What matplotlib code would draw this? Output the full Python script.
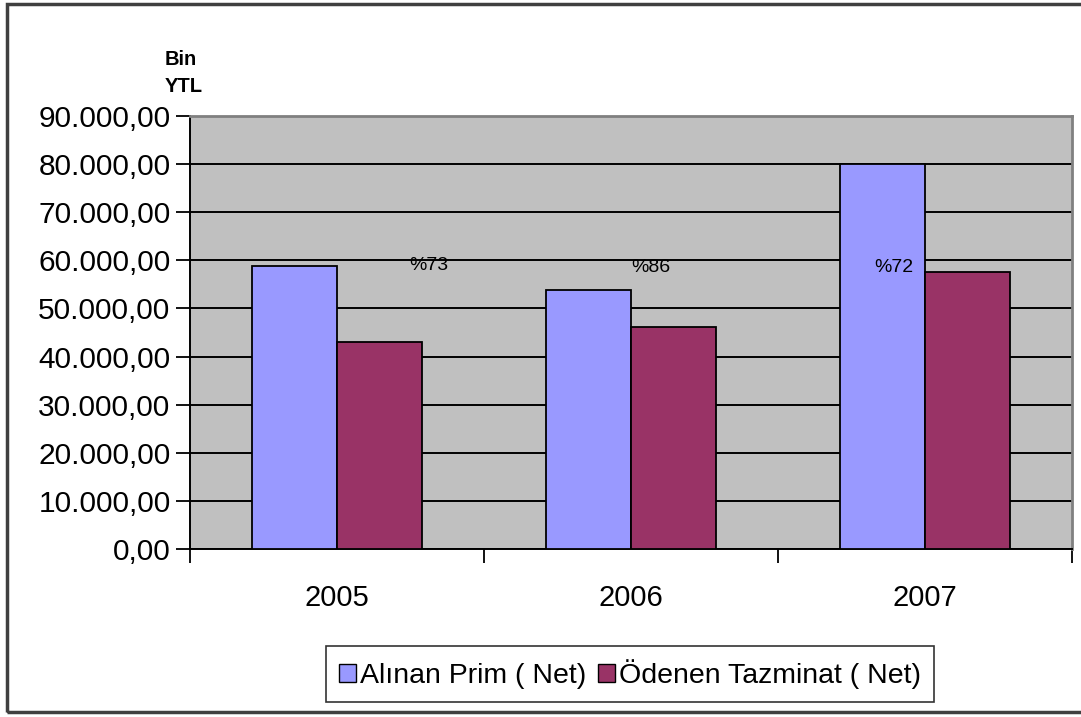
import matplotlib
matplotlib.use("Agg")
import matplotlib.pyplot as plt
from matplotlib.patches import Rectangle, Patch
from matplotlib.ticker import FuncFormatter, FixedLocator
import numpy as np

plt.rcParams['font.family'] = ['Liberation Sans', 'DejaVu Sans']

years = ["2005", "2006", "2007"]
alinan_prim = [58800, 53800, 80000]
odenen_tazminat = [43000, 46100, 57500]
pct_labels = ["%73", "%86", "%72"]
series_names = ["Alınan Prim ( Net)", "Ödenen Tazminat ( Net)"]
y_ticks = [0, 10000, 20000, 30000, 40000, 50000, 60000, 70000, 80000, 90000]

W, H = 1081, 717
fig = plt.figure(figsize=(W / 100, H / 100), dpi=100)
fig.patch.set_facecolor("white")

ax = fig.add_axes([190 / W, 1 - 549 / H, (1072 - 190) / W, (549 - 116) / H])
ax.set_facecolor("#C0C0C0")

x = np.arange(len(years))
bw = 0.29
ax.bar(x - bw / 2, alinan_prim, bw, color="#9999FF", edgecolor="black",
       linewidth=1.3, zorder=3, label=series_names[0])
ax.bar(x + bw / 2, odenen_tazminat, bw, color="#993366", edgecolor="black",
       linewidth=1.3, zorder=3, label=series_names[1])

# percentage labels
pct_x = [0.313, 1.068, 1.894]
pct_y = [59000, 58600, 58600]
for px, py, lab in zip(pct_x, pct_y, pct_labels):
    ax.text(px, py, lab, ha="center", va="center", fontsize=14, color="black", zorder=4)

ax.set_xlim(-0.5, 2.5)
ax.set_ylim(0, 90000)
ax.set_yticks(y_ticks)
ax.yaxis.set_major_formatter(FuncFormatter(
    lambda v, p: f"{v:,.2f}".replace(",", "X").replace(".", ",").replace("X", ".")))
ax.yaxis.grid(True, color="black", linewidth=1.4, zorder=1)
ax.set_axisbelow(True)

ax.set_xticks(x)
ax.set_xticklabels(years)
ax.xaxis.set_minor_locator(FixedLocator([-0.5, 0.5, 1.5, 2.5]))
ax.tick_params(axis="x", which="major", length=0, pad=25, labelsize=21)
ax.tick_params(axis="x", which="minor", length=10, width=1.3, direction="out", color="black")
ax.tick_params(axis="y", which="major", length=10, width=1.3, direction="out", pad=4, labelsize=21.5)

for s in ["left", "bottom"]:
    ax.spines[s].set_color("black")
    ax.spines[s].set_linewidth(1.4)
for s in ["top", "right"]:
    ax.spines[s].set_color("#808080")
    ax.spines[s].set_linewidth(2)

fig.text(165 / W, 1 - 50 / H, "Bin\nYTL", ha="left", va="top", fontsize=14.5,
         fontweight="bold", linespacing=1.5)

handles = [Patch(facecolor="#9999FF", edgecolor="black", linewidth=1),
           Patch(facecolor="#993366", edgecolor="black", linewidth=1)]
leg = fig.legend(handles, series_names, loc="center",
                 bbox_to_anchor=((322 + 938) / 2 / W, 1 - 674 / H), ncol=2,
                 fontsize=20.5, frameon=True, fancybox=False, edgecolor="black",
                 handlelength=0.6, handleheight=0.6, handletextpad=0.15,
                 columnspacing=0.4, borderpad=0.45, borderaxespad=0)
leg.get_frame().set_linewidth(1.2)

fig.add_artist(Rectangle((7 / W, 1 - 712 / H), (W + 20) / W, (712 - 4) / H,
                         transform=fig.transFigure, fill=False,
                         edgecolor="#404040", linewidth=2.5))

fig.savefig("out.png", dpi=100)
